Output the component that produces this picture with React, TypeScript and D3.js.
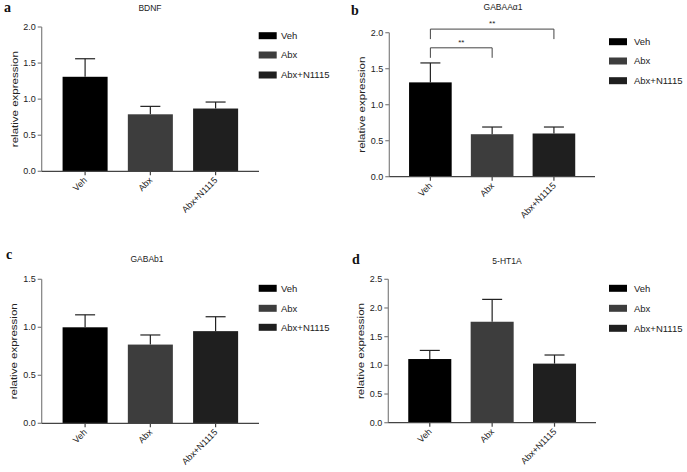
import React from "react";
import * as d3 from "d3";

const groups = ["Veh", "Abx", "Abx+N1115"];
const barColors = ["#000000", "#3d3d3d", "#1f1f1f"];

const bdnfMean = [1.31, 0.79, 0.87];
const bdnfErr = [0.25, 0.11, 0.09];
const gabaaMean = [1.31, 0.59, 0.6];
const gabaaErr = [0.27, 0.1, 0.09];
const gababMean = [1.0, 0.82, 0.96];
const gababErr = [0.13, 0.1, 0.15];
const htMean = [1.11, 1.76, 1.03];
const htErr = [0.15, 0.39, 0.15];

const ticks2 = [0, 0.5, 1.0, 1.5, 2.0];
const ticks15 = [0, 0.5, 1.0, 1.5];
const ticks25 = [0, 0.5, 1.0, 1.5, 2.0, 2.5];

const gabaaSig = [
  { from: 0, to: 1, level: 1.79, label: "**" },
  { from: 0, to: 2, level: 2.05, label: "**" },
];

type Sig = { from: number; to: number; level: number; label: string };

type PanelProps = {
  letter: string;
  letterX: number;
  letterY: number;
  title: string;
  titleX: number;
  titleY: number;
  axisX: number;
  axisEnd: number;
  y0: number;
  yTop: number;
  yMax: number;
  ticks: number[];
  means: number[];
  errs: number[];
  labelX: number;
  legendX: number;
  legendTextX: number;
  legendY: number[];
  sig?: Sig[];
};

const SANS = "'Liberation Sans', Arial, sans-serif";

function Panel(p: PanelProps) {
  const y = d3.scaleLinear().domain([0, p.yMax]).range([p.y0, p.yTop]);
  const x = d3
    .scaleBand<string>()
    .domain(groups)
    .range([p.axisX, p.axisEnd])
    .paddingInner(0.31)
    .paddingOuter(0.32);
  const bw = x.bandwidth();
  const cx = (g: string) => (x(g) as number) + bw / 2;
  return (
    <g>
      <text
        x={p.letterX}
        y={p.letterY}
        fontFamily="'Liberation Serif', 'Times New Roman', serif"
        fontSize={14}
        fontWeight="bold"
        fill="#111"
      >
        {p.letter}
      </text>
      <text x={p.titleX} y={p.titleY} textAnchor="middle" fontFamily={SANS} fontSize={8.5} fill="#222">
        {p.title}
      </text>
      {groups.map((g, i) => (
        <rect
          key={g}
          x={x(g)}
          y={y(p.means[i])}
          width={bw}
          height={p.y0 - y(p.means[i])}
          fill={barColors[i]}
        />
      ))}
      {groups.map((g, i) => {
        const top = y(p.means[i] + p.errs[i]);
        return (
          <g key={g} stroke="#222" strokeWidth={1.2}>
            <line x1={cx(g)} x2={cx(g)} y1={y(p.means[i])} y2={top} />
            <line x1={cx(g) - 10} x2={cx(g) + 10} y1={top} y2={top} />
          </g>
        );
      })}
      <line x1={p.axisX} x2={p.axisX} y1={p.yTop} y2={p.y0} stroke="#808080" strokeWidth={1.2} />
      {p.ticks.map((t) => (
        <g key={t}>
          <line x1={p.axisX - 4} x2={p.axisX} y1={y(t)} y2={y(t)} stroke="#808080" strokeWidth={1.2} />
          <text
            x={p.axisX - 6}
            y={y(t)}
            dy="0.35em"
            textAnchor="end"
            fontFamily={SANS}
            fontSize={9}
            fill="#222"
          >
            {t.toFixed(1)}
          </text>
        </g>
      ))}
      <text
        transform={`translate(${p.labelX},${(p.y0 + p.yTop) / 2}) rotate(-90)`}
        textAnchor="middle"
        dy="0.35em"
        fontFamily={SANS}
        fontSize={9.5}
        textLength={96}
        lengthAdjust="spacingAndGlyphs"
        fill="#222"
      >
        relative expression
      </text>
      <line x1={p.axisX} x2={p.axisEnd} y1={p.y0} y2={p.y0} stroke="#444" strokeWidth={1.2} />
      {groups.map((g) => (
        <g key={g}>
          <line x1={cx(g)} x2={cx(g)} y1={p.y0} y2={p.y0 + 4} stroke="#444" strokeWidth={1.2} />
          <text
            transform={`translate(${cx(g) + 2.5},${p.y0 + 9.5}) rotate(-45)`}
            textAnchor="end"
            fontFamily={SANS}
            fontSize={9}
            fill="#222"
          >
            {g}
          </text>
        </g>
      ))}
      {(p.sig || []).map((s, k) => {
        const x1 = cx(groups[s.from]);
        const x2 = cx(groups[s.to]);
        const ly = y(s.level);
        return (
          <g key={k}>
            <path
              d={`M${x1},${ly + 10}V${ly}H${x2}V${ly + 10}`}
              fill="none"
              stroke="#444"
              strokeWidth={1}
            />
            <text
              x={(x1 + x2) / 2}
              y={ly - 3}
              textAnchor="middle"
              fontFamily={SANS}
              fontSize={8}
              fill="#222"
            >
              {s.label}
            </text>
          </g>
        );
      })}
      {groups.map((g, i) => (
        <g key={g}>
          <rect x={p.legendX} y={p.legendY[i] - 3.5} width={18} height={7} fill={barColors[i]} />
          <text
            x={p.legendTextX}
            y={p.legendY[i]}
            dy="0.35em"
            fontFamily={SANS}
            fontSize={9.5}
            fill="#222"
          >
            {g}
          </text>
        </g>
      ))}
    </g>
  );
}

export default function App() {
  return (
    <svg
      width={687}
      height={472}
      style={{ position: "absolute", left: 0, top: 0, background: "#fff" }}
    >
      <rect width={687} height={472} fill="#fff" />
      <Panel
        letter="a"
        letterX={4}
        letterY={12}
        title="BDNF"
        titleX={150}
        titleY={11}
        axisX={41.7}
        axisEnd={259}
        y0={171.3}
        yTop={27}
        yMax={2}
        ticks={ticks2}
        means={bdnfMean}
        errs={bdnfErr}
        labelX={15}
        legendX={258.7}
        legendTextX={281}
        legendY={[35.7, 55, 75]}
      />
      <Panel
        letter="b"
        letterX={351}
        letterY={15}
        title="GABAAα1"
        titleX={503}
        titleY={10}
        axisX={389.3}
        axisEnd={595}
        y0={176.7}
        yTop={32.7}
        yMax={2}
        ticks={ticks2}
        means={gabaaMean}
        errs={gabaaErr}
        labelX={362}
        legendX={609}
        legendTextX={634}
        legendY={[41.7, 61, 80.7]}
        sig={gabaaSig}
      />
      <Panel
        letter="c"
        letterX={6}
        letterY={259}
        title="GABAb1"
        titleX={147}
        titleY={261.5}
        axisX={41.7}
        axisEnd={259}
        y0={423.3}
        yTop={279.3}
        yMax={1.5}
        ticks={ticks15}
        means={gababMean}
        errs={gababErr}
        labelX={14}
        legendX={258.7}
        legendTextX={281}
        legendY={[288.3, 308.3, 327.3]}
      />
      <Panel
        letter="d"
        letterX={352}
        letterY={264}
        title="5-HT1A"
        titleX={507}
        titleY={264}
        axisX={388.3}
        axisEnd={596}
        y0={422.7}
        yTop={279.3}
        yMax={2.5}
        ticks={ticks25}
        means={htMean}
        errs={htErr}
        labelX={361}
        legendX={609}
        legendTextX={634}
        legendY={[288.3, 308.3, 328.3]}
      />
    </svg>
  );
}
